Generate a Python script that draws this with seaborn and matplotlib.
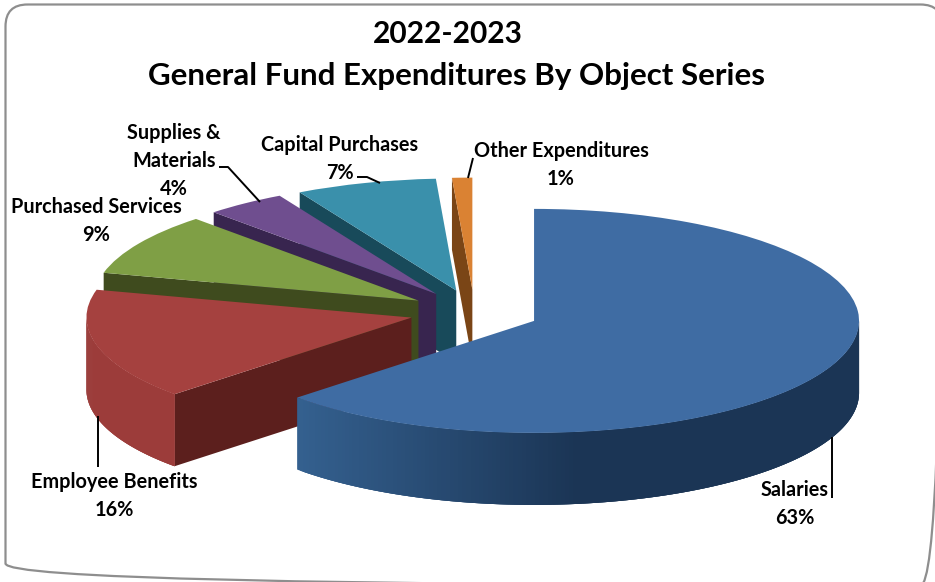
import numpy as np
import matplotlib
matplotlib.use("Agg")
import matplotlib.pyplot as plt
from matplotlib.colors import to_rgb
from matplotlib.patches import FancyBboxPatch
import seaborn as sns

# Budget shares, clockwise from twelve o'clock
categories = ["Salaries", "Employee Benefits", "Purchased Services",
              "Supplies &\nMaterials", "Capital Purchases", "Other Expenditures"]
shares = [63, 16, 9, 4, 7, 1]
title_lines = ["2022-2023", "General Fund Expenditures By Object Series"]

top_colors = sns.color_palette(["#3F6CA3", "#A5413F", "#7F9F45",
                                "#6F4E8F", "#3A90AB", "#DA8233"])
radial_colors = ["#1C3759", "#5C1F1D", "#3F4B1E", "#38254F", "#184A5A", "#7A4516"]
rim_colors = [("#34608F", "#1B3555"), ("#9C3C3A", "#9C3C3A"), ("#4E6128", "#4E6128"),
              ("#4A3468", "#4A3468"), ("#225F73", "#225F73"), ("#9A5A20", "#9A5A20")]

# Label anchors and leader lines, in figure pixels from the top-left
label_pos = [(795, 504), (114, 496), (96, 221), (174, 161), (340, 159), (561, 165)]
leaders = [[(832, 437), (832, 498)],
           [(98, 416), (98, 467)],
           [],
           [(219, 167), (228, 167), (260, 202)],
           [(357, 177), (367, 177), (380, 183)],
           [(473, 158), (468, 178)]]

W, H = 935, 582
CX, CY, RX, RY = 474.4, 312.0, 325.0, 112.0
DEPTH = 72.0 / RY

sns.set_theme(style="white")
plt.rcParams["font.family"] = ["Lato", "DejaVu Sans"]

fig = plt.figure(figsize=(W / 100, H / 100), dpi=100, facecolor="white")
ax = fig.add_axes([0, 0, 1, 1])

wedges, _ = ax.pie(shares, explode=[0.2] * len(shares), startangle=90,
                   counterclock=False, colors=top_colors,
                   wedgeprops={"linewidth": 0})
# Flatten the disc into a tilted ellipse
ax.set_aspect("auto")
ax.set_xlim(-CX / RX, (W - CX) / RX)
ax.set_ylim((CY - H) / RY, CY / RY)
ax.axis("off")


def quad(p, q, color, z):
    xs = [p[0], q[0], q[0], p[0]]
    ys = [p[1], q[1], q[1] - DEPTH, p[1] - DEPTH]
    ax.fill(xs, ys, color=color, lw=0, zorder=z)


# Slices further back are painted first; each gets walls, then its top face
for i, w in enumerate(wedges):
    z = 10 * (len(wedges) - i)
    apex = np.array(w.center)
    t1, t2 = w.theta1, w.theta2
    edge = lambda t: apex + np.array([np.cos(np.radians(t)), np.sin(np.radians(t))])

    if np.cos(np.radians(t2)) < -1e-6:
        quad(apex, edge(t2), radial_colors[i], z)
    if np.cos(np.radians(t1)) > 1e-6:
        quad(apex, edge(t1), radial_colors[i], z)

    angles = np.linspace(t1, t2, 300)
    rim = [edge(a) for a in angles if np.sin(np.radians(a)) < 0]
    if len(rim) > 1:
        c0, c1 = map(np.array, map(to_rgb, rim_colors[i]))
        x0, x1 = rim[0][0], rim[0][0] + 0.85
        # Overlapping strips keep the shaded wall free of seams
        for j in range(len(rim) - 1):
            p, q = rim[j], rim[min(j + 3, len(rim) - 1)]
            f = np.clip((p[0] - x0) / (x1 - x0), 0, 1)
            quad(p, q, tuple(c0 + (c1 - c0) * f), z + 1)
    w.set_zorder(z + 2)

# Overlay in pixel units for the frame, leaders and text
ov = fig.add_axes([0, 0, 1, 1], facecolor="none")
ov.set_xlim(0, W)
ov.set_ylim(H, 0)
ov.axis("off")

ov.add_patch(FancyBboxPatch((5.5, 4.5), 937, 581,
                            boxstyle="round,pad=0,rounding_size=22",
                            fc="none", ec="#8E8E8E", lw=1.6))

for pts in leaders:
    if pts:
        xs, ys = zip(*pts)
        ov.plot(xs, ys, color="black", lw=1.4, solid_capstyle="butt")

for name, share, (x, y) in zip(categories, shares, label_pos):
    ov.text(x, y, f"{name}\n{share}%", ha="center", va="center", ma="center",
            fontsize=14.3, fontweight="bold", color="black", linespacing=1.48)

ov.text(448, 34, title_lines[0], ha="center", va="center",
        fontsize=21.5, fontweight="bold", color="black")
ov.text(456, 76, title_lines[1], ha="center", va="center",
        fontsize=22.5, fontweight="bold", color="black")

fig.savefig("out.png", dpi=100)
